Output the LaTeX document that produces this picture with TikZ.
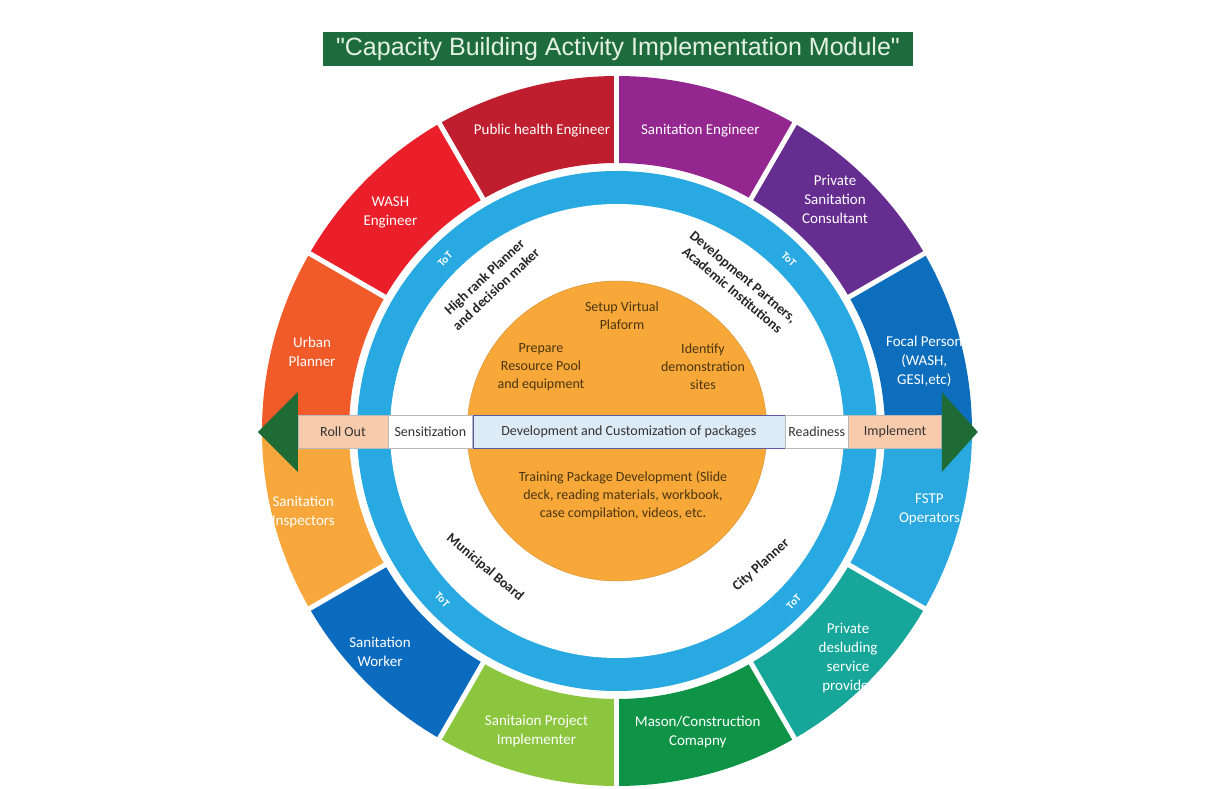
\documentclass[tikz,border=0pt]{standalone}
\usepackage{fontspec}
\setmainfont{Carlito}
\newfontfamily\titlefont{Liberation Sans}
\usetikzlibrary{positioning}
\definecolor{titlegreen}{HTML}{1E6B3E}
\definecolor{titletext}{HTML}{E4F2E4}
\definecolor{pubred}{HTML}{BE1E2D}
\definecolor{washred}{HTML}{EA1F29}
\definecolor{urbanorange}{HTML}{F15A29}
\definecolor{inspectorange}{HTML}{F7A73B}
\definecolor{workerblue}{HTML}{0B6BBE}
\definecolor{projgreen}{HTML}{8CC63F}
\definecolor{masongreen}{HTML}{0F9447}
\definecolor{desludgeteal}{HTML}{17A79A}
\definecolor{fstpblue}{HTML}{2AA8E0}
\definecolor{focalblue}{HTML}{0E6EBE}
\definecolor{consultpurple}{HTML}{662D91}
\definecolor{sanengpurple}{HTML}{93278F}
\definecolor{ringblue}{HTML}{29A9E1}
\definecolor{corefill}{HTML}{F7A839}
\definecolor{corebrown}{HTML}{4A3510}
\definecolor{peach}{HTML}{F8CBAD}
\definecolor{devblue}{HTML}{DDEBF7}
\definecolor{arrowgreen}{HTML}{1E6B36}
\newcommand{\ringsector}[3]{\fill[#3] (#1:268pt) arc[start angle=#1, end angle=#2, radius=268pt] -- (#2:355pt) arc[start angle=#2, end angle=#1, radius=355pt] -- cycle;}
\tikzset{
  seglabel/.style={text=white, align=center, font=\fontsize{15}{19}\selectfont},
  ringlabel/.style={text=black!85, align=center, font=\bfseries\fontsize{14}{17}\selectfont},
  totlabel/.style={text=white, font=\bfseries\fontsize{11}{13}\selectfont},
  corelabel/.style={text=corebrown, align=center, font=\fontsize{14}{18}\selectfont},
  barbox/.style={draw=gray!55, minimum height=33pt, inner sep=0pt, text=black!80, font=\fontsize{14}{16}\selectfont},
}
\begin{document}
\begin{tikzpicture}[x=1pt,y=1pt]
      \useasboundingbox[fill=white] (-617,-358) rectangle (607,431);
      \node[fill=titlegreen, text=titletext, font=\titlefont\fontsize{25}{30}\selectfont,
        minimum width=590pt, minimum height=34pt, inner sep=0pt] (title) at (1,382)
        {"Capacity Building Activity Implementation Module"};
      \ringsector{90}{120}{pubred}
      \ringsector{120}{150}{washred}
      \ringsector{150}{180}{urbanorange}
      \ringsector{180}{210}{inspectorange}
      \ringsector{210}{240}{workerblue}
      \ringsector{240}{270}{projgreen}
      \ringsector{270}{300}{masongreen}
      \ringsector{300}{330}{desludgeteal}
      \ringsector{330}{360}{fstpblue}
      \ringsector{0}{30}{focalblue}
      \ringsector{30}{60}{consultpurple}
      \ringsector{60}{90}{sanengpurple}
      \begin{scope}[white, line width=5pt]
        \draw (0:264) -- (0:360);
        \draw (30:264) -- (30:360);
        \draw (60:264) -- (60:360);
        \draw (90:264) -- (90:360);
        \draw (120:264) -- (120:360);
        \draw (150:264) -- (150:360);
        \draw (180:264) -- (180:360);
        \draw (210:264) -- (210:360);
        \draw (240:264) -- (240:360);
        \draw (270:264) -- (270:360);
        \draw (300:264) -- (300:360);
        \draw (330:264) -- (330:360);
      \end{scope}
      \fill[ringblue] (0,0) circle[radius=260pt];
      \fill[white] (0,0) circle[radius=227pt];
      \fill[corefill, draw=corefill!85!black, line width=0.4pt] (0,0) circle[radius=150pt];
      \draw
        (104:310) node[seglabel] (pubhealth) {Public health Engineer}
        (74.5:312) node[seglabel] (saneng) {Sanitation Engineer}
        (136:315) node[seglabel] (wash) {WASH\\Engineer}
        (46.7:318) node[seglabel] (privcons) {Private\\Sanitation\\Consultant}
        (165.5:315) node[seglabel] (urban) {Urban\\Planner}
        (12.7:315) node[seglabel] (focal) {Focal Person\\(WASH,\\GESI,etc)}
        (194.5:324) node[seglabel] (saninsp) {Sanitation\\Inspectors}
        (346:322) node[seglabel] (fstp) {FSTP\\Operators}
        (223:324) node[seglabel] (sanworker) {Sanitation\\Worker}
        (315.5:324) node[seglabel] (desludge) {Private\\desluding\\service\\provider}
        (255:311) node[seglabel] (projimpl) {Sanitaion Project\\Implementer}
        (285:312) node[seglabel] (mason) {Mason/Construction\\Comapny};
      \draw
        (135:243) node[totlabel, rotate=45] (tot1) {ToT}
        (45:243) node[totlabel, rotate=-45] (tot2) {ToT}
        (224:243) node[totlabel, rotate=-46] (tot3) {ToT}
        (316:246) node[totlabel, rotate=46] (tot4) {ToT};
      \draw
        (130.6:195) node[ringlabel, rotate=43] (highrank) {High rank Planner\\and decision maker}
        (50.7:191) node[ringlabel, rotate=-40] (devpartners) {Development Partners,\\Academic Institutions}
        (226:190) node[ringlabel, rotate=-40] (municipal) {Municipal Board}
        (-43:197) node[ringlabel, rotate=42] (cityplanner) {City Planner};
      \node[corelabel] (setup) at (5,115) {Setup Virtual\\Plaform};
      \node[corelabel] (prepare) at (-76,64) {Prepare\\Resource Pool\\and equipment};
      \node[corelabel] (identify) at (86,64) {Identify\\demonstration\\sites};
      \node[corelabel] (training) at (6,-65) {Training Package Development (Slide\\deck, reading materials, workbook,\\case compilation, videos, etc.};
      \node[barbox, fill=peach, minimum width=90pt] (rollout) at (-274,-1) {Roll Out};
      \node[barbox, fill=white, minimum width=84pt, right=0pt of rollout] (sensit) {Sensitization};
      \node[barbox, fill=devblue, draw=gray!70!blue, minimum width=312pt, right=0pt of sensit] (devpack) {Development and Customization of packages};
      \node[barbox, fill=white, minimum width=63pt, right=0pt of devpack] (readiness) {Readiness};
      \node[barbox, fill=peach, minimum width=93pt, right=0pt of readiness] (implement) {Implement};
      \fill[arrowgreen] ([yshift=40pt]rollout.west) -- ([xshift=-40pt]rollout.west) -- ([yshift=-40pt]rollout.west) -- cycle;
      \fill[arrowgreen] ([yshift=40pt]implement.east) -- ([xshift=36pt]implement.east) -- ([yshift=-40pt]implement.east) -- cycle;
    \end{tikzpicture}
\end{document}
